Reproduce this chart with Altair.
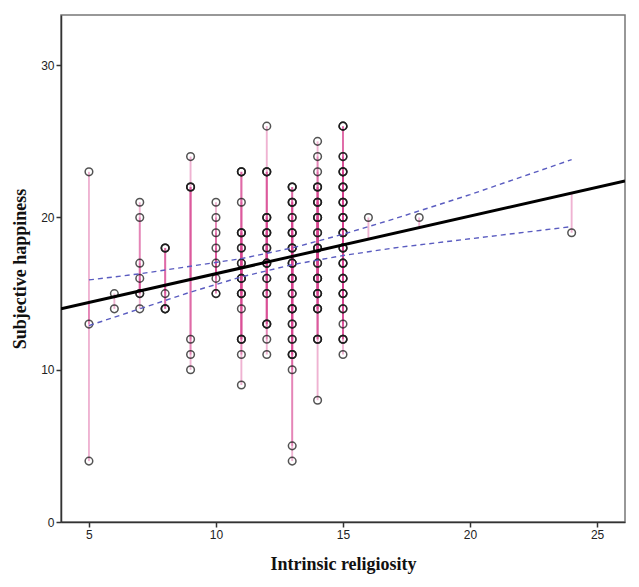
import altair as alt
import pandas as pd

# ---- data ----
col_x = [5, 6, 7, 8, 9, 10, 11, 12, 13, 14, 15, 16, 18, 24]
col_y = [
    [23, 13, 4],
    [15, 14],
    [21, 20, 17, 16, 15, 14],
    [18, 15, 14],
    [24, 22, 12, 11, 10],
    [21, 20, 19, 18, 17, 16, 15],
    [23, 21, 19, 18, 17, 16, 15, 14, 12, 11, 9],
    [26, 23, 20, 19, 18, 17, 16, 15, 13, 12, 11],
    [22, 21, 20, 19, 18, 17, 16, 15, 14, 13, 12, 11, 10, 5, 4],
    [25, 24, 23, 22, 21, 20, 19, 18, 17, 16, 15, 14, 12, 8],
    [26, 24, 23, 22, 21, 20, 19, 18, 17, 16, 15, 14, 13, 12, 11],
    [20],
    [20],
    [19],
]
col_n = [
    [1, 1, 1],
    [1, 1],
    [1, 1, 1, 1, 2, 1],
    [3, 1, 3],
    [1, 3, 1, 1, 1],
    [1, 1, 1, 1, 1, 1, 2],
    [3, 1, 3, 2, 2, 3, 3, 1, 3, 1, 1],
    [1, 3, 3, 3, 2, 3, 2, 2, 3, 1, 1],
    [3, 3, 2, 3, 3, 3, 3, 2, 3, 2, 2, 3, 1, 1, 1],
    [1, 1, 1, 3, 3, 3, 2, 3, 2, 3, 3, 3, 3, 1],
    [3, 2, 3, 3, 3, 3, 3, 3, 3, 3, 3, 2, 1, 3, 1],
    [1],
    [1],
    [1],
]

# fitted line (read endpoints)
reg_x = [3.9, 26.1]
reg_y = [14.0, 22.4]

# 95% CI of the mean
ci_x = [5, 7, 9, 11, 13, 15, 17, 20, 24]
ci_upper = [15.9, 16.3, 16.8, 17.3, 18.0, 18.9, 19.9, 21.5, 23.8]
ci_lower = [12.9, 14.0, 15.1, 16.1, 16.9, 17.5, 18.0, 18.6, 19.4]

x_ticks = [5, 10, 15, 20, 25]
y_ticks = [0, 10, 20, 30]

# ---- tables ----
rows = []
for x, ys, ns in zip(col_x, col_y, col_n):
    for y, n in zip(ys, ns):
        for _ in range(n):
            rows.append({"x": x, "y": y})
pts = pd.DataFrame(rows)
slope = (reg_y[1] - reg_y[0]) / (reg_x[1] - reg_x[0])
pts["fit"] = reg_y[0] + (pts["x"] - reg_x[0]) * slope

reg = pd.DataFrame({"x": reg_x, "y": reg_y})
ci = pd.DataFrame(
    [{"x": x, "y": u, "band": "upper"} for x, u in zip(ci_x, ci_upper)]
    + [{"x": x, "y": l, "band": "lower"} for x, l in zip(ci_x, ci_lower)]
)

xs = alt.Scale(domain=[3.9, 26.1], nice=False, zero=False)
ys_ = alt.Scale(domain=[0, 33.3], nice=False)

x_axis = alt.Axis(
    title="Intrinsic religiosity", values=x_ticks, grid=False,
    titleY=42, titleBaseline="middle",
)
y_axis = alt.Axis(
    title="Subjective happiness", values=y_ticks, grid=False,
    titleX=-41, titleY=253.5, titleBaseline="middle", titleAngle=270,
)

resid = alt.Chart(pts).mark_rule(color="#d6418f", opacity=0.4, strokeWidth=1.9).encode(
    x=alt.X("x:Q", scale=xs, axis=x_axis),
    y=alt.Y("y:Q", scale=ys_, axis=y_axis),
    y2="fit:Q",
)

circles = alt.Chart(pts).mark_point(
    shape="circle", filled=False, size=58, strokeWidth=1.5,
    color="#1a1a1a", opacity=0.75,
).encode(x=alt.X("x:Q", scale=xs), y=alt.Y("y:Q", scale=ys_))

ci_lines = alt.Chart(ci).mark_line(
    color="#5a5cc0", strokeDash=[5, 4], strokeWidth=1.4
).encode(
    x=alt.X("x:Q", scale=xs), y=alt.Y("y:Q", scale=ys_), detail="band:N"
)

reg_line = alt.Chart(reg).mark_line(color="#000000", strokeWidth=3, clip=True).encode(
    x=alt.X("x:Q", scale=xs), y=alt.Y("y:Q", scale=ys_)
)

chart = (
    alt.layer(resid, circles, ci_lines, reg_line)
    .properties(
        width=564, height=507,
        autosize=alt.AutoSizeParams(type="none"),
        padding={"left": 53, "top": 7, "right": 6, "bottom": 57},
        background="white",
    )
    .configure_view(stroke="#777777", strokeWidth=1.5)
    .configure_axis(
        labelFont="Liberation Sans", labelFontSize=12, labelColor="#222222",
        titleFont="Liberation Serif", titleFontSize=18, titleFontWeight="bold",
        titleColor="#111111", domainColor="#333333", domainWidth=1.5,
        tickColor="#333333", tickSize=5, tickWidth=1.5, labelPadding=2,
    )
)

chart.save("out.html", embed_options={"renderer": "svg", "actions": False})
